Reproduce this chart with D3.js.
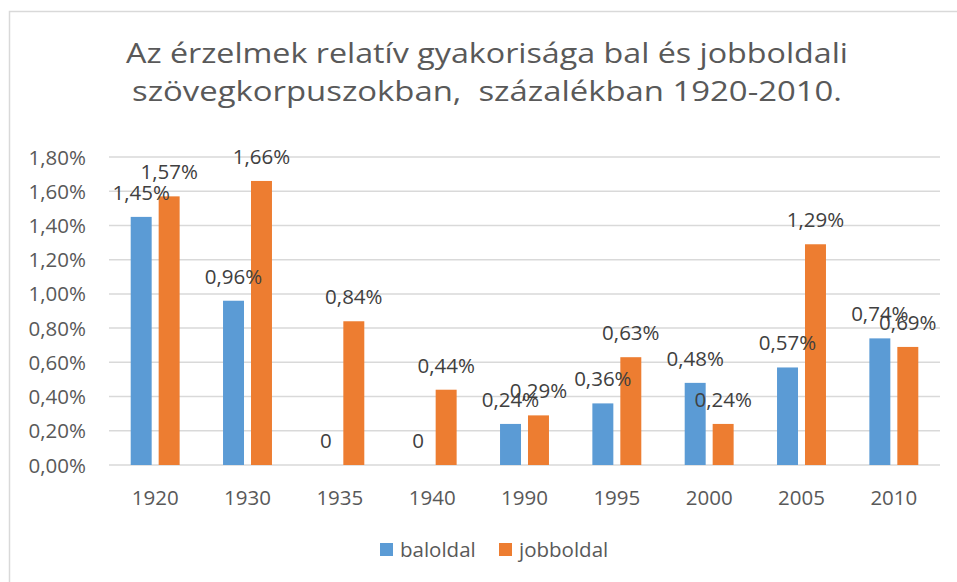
<!DOCTYPE html>
<html>
<head>
<meta charset="utf-8">
<script src="https://cdn.jsdelivr.net/npm/d3@7"></script>
<style>
  body { margin: 0; background: #fff; }
  text { font-family: "Open Sans", "Noto Sans", sans-serif; }
</style>
</head>
<body>
<div id="chart"></div>
<script>
const width = 957;
const height = 582;

// data
const years = ["1920", "1930", "1935", "1940", "1990", "1995", "2000", "2005", "2010"];
const seriesNames = ["baloldal", "jobboldal"];
const baloldal = [1.45, 0.96, 0, 0, 0.24, 0.36, 0.48, 0.57, 0.74];
const jobboldal = [1.57, 1.66, 0.84, 0.44, 0.29, 0.63, 0.24, 1.29, 0.69];
const yTicks = [0, 0.2, 0.4, 0.6, 0.8, 1.0, 1.2, 1.4, 1.6, 1.8];
const colors = ["#5B9BD5", "#ED7D31"];
const titleLines = ["Az érzelmek relatív gyakorisága bal és jobboldali", "szövegkorpuszokban,  százalékban 1920-2010."];

const rows = years.map((y, i) => ({ year: y, values: [baloldal[i], jobboldal[i]] }));

const svg = d3.select("#chart")
    .append("svg")
    .attr("width", width)
    .attr("height", height);

// chart border (only top and left visible in the crop)
svg.append("rect")
    .attr("x", 9.5)
    .attr("y", 11.5)
    .attr("width", 1200)
    .attr("height", 1200)
    .attr("fill", "none")
    .attr("stroke", "#D9D9D9")
    .attr("stroke-width", 1.5);

// title
svg.selectAll(".title")
    .data(titleLines)
    .enter()
    .append("text")
    .attr("class", "title")
    .attr("x", 487)
    .attr("y", (d, i) => 63 + i * 38)
    .attr("text-anchor", "middle")
    .attr("fill", "#595959")
    .attr("font-size", 27)
    .attr("textLength", (d, i) => i === 0 ? 722 : 710)
    .attr("lengthAdjust", "spacingAndGlyphs")
    .style("white-space", "pre")
    .text(d => d);

const x0 = d3.scaleBand()
    .domain(years)
    .range([109, 940])
    .paddingInner(0)
    .paddingOuter(0);

const bw = x0.bandwidth();
const x1 = d3.scaleBand()
    .domain(seriesNames)
    .range([bw * 0.235, bw * 0.765])
    .paddingInner(0.25);

const y = d3.scaleLinear()
    .domain([0, 1.8])
    .range([465, 157]);

const fmt = d => d === 0 ? "0" : d.toFixed(2).replace(".", ",") + "%";
const fs = 20.5;

// gridlines
svg.append("g")
    .selectAll("line")
    .data(yTicks)
    .enter()
    .append("line")
    .attr("x1", 109)
    .attr("x2", 940)
    .attr("y1", d => y(d))
    .attr("y2", d => y(d))
    .attr("stroke", "#D9D9D9")
    .attr("stroke-width", 1.5);

// y axis labels
svg.append("g")
    .selectAll("text")
    .data(yTicks)
    .enter()
    .append("text")
    .attr("x", 86)
    .attr("y", d => y(d) + 7.5)
    .attr("text-anchor", "end")
    .attr("fill", "#595959")
    .attr("font-size", fs)
    .text(d => d.toFixed(2).replace(".", ",") + "%");

// x axis labels
svg.append("g")
    .selectAll("text")
    .data(years)
    .enter()
    .append("text")
    .attr("x", d => x0(d) + bw / 2)
    .attr("y", 505)
    .attr("text-anchor", "middle")
    .attr("fill", "#595959")
    .attr("font-size", fs)
    .text(d => d);

// bars
const groups = svg.append("g")
    .selectAll("g")
    .data(rows)
    .enter()
    .append("g")
    .attr("transform", d => `translate(${x0(d.year)},0)`);

groups.selectAll("rect")
    .data(d => d.values.map((v, i) => ({ key: seriesNames[i], value: v, i: i })))
    .enter()
    .append("rect")
    .attr("x", d => x1(d.key))
    .attr("width", x1.bandwidth())
    .attr("y", d => y(d.value))
    .attr("height", d => y(0) - y(d.value))
    .attr("fill", d => colors[d.i]);

// data labels
groups.selectAll("text")
    .data(d => d.values.map((v, i) => ({ key: seriesNames[i], value: v })))
    .enter()
    .append("text")
    .attr("x", d => x1(d.key) + x1.bandwidth() / 2)
    .attr("y", d => y(d.value) - 17)
    .attr("text-anchor", "middle")
    .attr("fill", "#404040")
    .attr("font-size", fs)
    .text(d => fmt(d.value));

// legend
const legendX = [380, 499];
const legend = svg.append("g")
    .selectAll("g")
    .data(seriesNames)
    .enter()
    .append("g")
    .attr("transform", (d, i) => `translate(${legendX[i]},543)`);

legend.append("rect")
    .attr("width", 13)
    .attr("height", 13)
    .attr("fill", (d, i) => colors[i]);

legend.append("text")
    .attr("x", 20)
    .attr("y", 14)
    .attr("fill", "#595959")
    .attr("font-size", fs)
    .text(d => d);
</script>
</body>
</html>
